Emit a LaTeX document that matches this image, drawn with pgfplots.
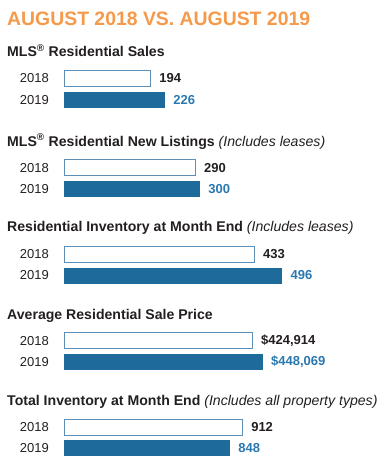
\documentclass[border=0pt]{standalone}
\usepackage{fontspec}
\setmainfont{Liberation Sans}
\usepackage{pgfplots}
\pgfplotsset{compat=1.18}
\definecolor{barblue}{HTML}{1D6A9B}
\definecolor{edgeblue}{HTML}{5B8FB8}
\definecolor{lblblue}{HTML}{2A78B0}
\definecolor{ttlorange}{HTML}{F5994A}
\definecolor{txt}{HTML}{231F20}
\pgfplotsset{
  panel/.style={
    scale only axis, width=300pt, height=42.6pt,
    xmin=0, ymin=-0.5, ymax=1.5, y dir=reverse,
    anchor=north west,
    axis line style={draw=none}, tick style={draw=none},
    major tick length=0pt,
    xtick=\empty, ytick={0,1}, yticklabels={2018,2019},
    yticklabel style={font=\fontsize{13}{13}\selectfont, text=txt, inner sep=0pt, xshift=-15pt},
    clip=false, xbar, bar width=16pt, bar shift=0pt,
    point meta=explicit symbolic,
    nodes near coords,
    every node near coord/.append style={anchor=west, inner sep=0pt, xshift=8pt,
      font=\fontsize{13}{13}\selectfont\bfseries},
  },
  old/.style={draw=edgeblue, line width=0.9pt, fill=white,
    every node near coord/.append style={text=txt}},
  new/.style={draw=none, fill=barblue,
    every node near coord/.append style={text=lblblue}},
}
\newcommand{\ptitle}[3]{\node[anchor=base west, inner sep=0pt, text=txt, font=\fontsize{14.1}{14}\selectfont] at (7pt,-#1pt) {\textbf{#2}#3};}
\begin{document}
\begin{tikzpicture}
\path[use as bounding box] (0,0) rectangle (386pt,-464pt);
\node[anchor=base west, inner sep=0pt, text=ttlorange, font=\fontsize{19.4}{20}\selectfont\bfseries] at (7pt,-25pt) {AUGUST 2018 VS. AUGUST 2019};

\ptitle{56.7}{MLS\textsuperscript{®} Residential Sales}{}
\begin{axis}[panel, at={(64pt,-67.85pt)}, xmax=670]
\addplot[old] coordinates {(194,0) [194]};
\addplot[new] coordinates {(226,1) [226]};
\end{axis}

\ptitle{146}{MLS\textsuperscript{®} Residential New Listings}{ \textit{(Includes leases)}}
\begin{axis}[panel, at={(64pt,-157.15pt)}, xmax=660.5]
\addplot[old] coordinates {(290,0) [290]};
\addplot[new] coordinates {(300,1) [300]};
\end{axis}

\ptitle{231.7}{Residential Inventory at Month End}{ \textit{(Includes leases)}}
\begin{axis}[panel, at={(64pt,-243.55pt)}, xmax=681]
\addplot[old] coordinates {(433,0) [433]};
\addplot[new] coordinates {(496,1) [496]};
\end{axis}

\ptitle{319.3}{Average Residential Sale Price}{}
\begin{axis}[panel, at={(64pt,-330.15pt)}, xmax=675500]
\addplot[old] coordinates {(424914,0) [\$424,914]};
\addplot[new] coordinates {(448069,1) [\$448,069]};
\end{axis}

\ptitle{405}{Total Inventory at Month End}{ \textit{(Includes all property types)}}
\begin{axis}[panel, at={(64pt,-416.35pt)}, xmax=1530]
\addplot[old] coordinates {(912,0) [912]};
\addplot[new] coordinates {(848,1) [848]};
\end{axis}
\end{tikzpicture}
\end{document}
